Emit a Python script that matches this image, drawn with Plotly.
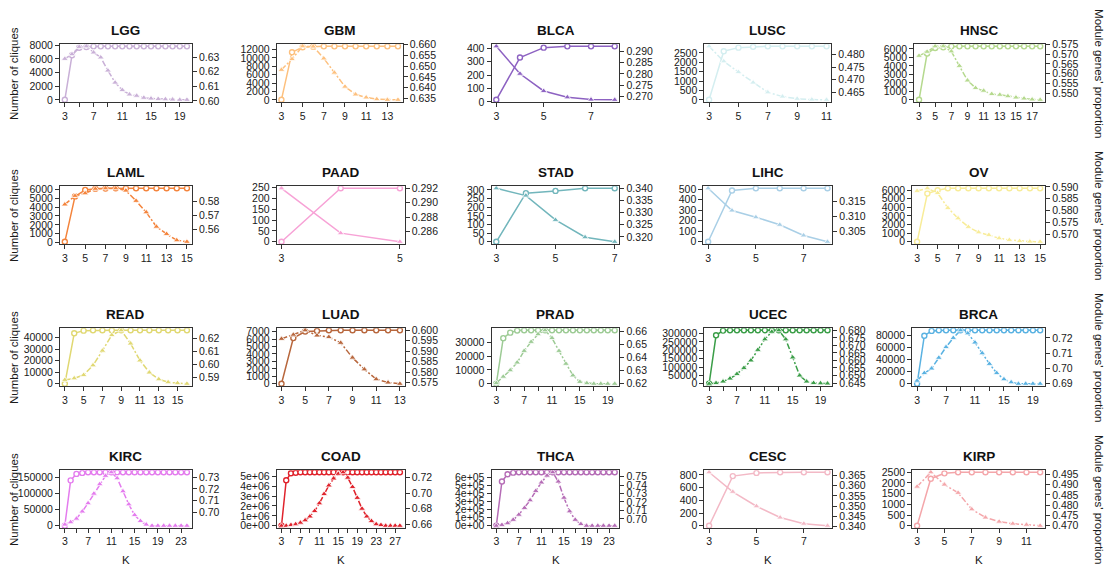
import plotly.graph_objects as go

# ---- data: number of cliques (left axis) and module genes' proportion (right axis) per K ----
LGG_k = list(range(3, 21))
LGG_cliques = [0, 6560, 7660, 7760, 7860, 7860, 7860, 7860, 7860, 7860, 7860, 7860, 7860, 7860, 7860, 7860, 7860, 7860]
LGG_prop = [0.6288, 0.6320, 0.6370, 0.6374, 0.6332, 0.6298, 0.6208, 0.6125, 0.6074, 0.6044, 0.6035, 0.6021, 0.6016, 0.6013, 0.6011, 0.6009, 0.6007, 0.6007]

GBM_k = list(range(3, 15))
GBM_cliques = [0, 11380, 12550, 12700, 12780, 12780, 12780, 12780, 12780, 12780, 12780, 12780]
GBM_prop = [0.6483, 0.6533, 0.6592, 0.6591, 0.6536, 0.6470, 0.6405, 0.6369, 0.6355, 0.6347, 0.6344, 0.6344]

BLCA_k = list(range(3, 9))
BLCA_cliques = [15, 331, 405, 415, 415, 415]
BLCA_prop = [0.2922, 0.2801, 0.2725, 0.2697, 0.2687, 0.2686]

LUSC_k = list(range(3, 12))
LUSC_cliques = [0, 2590, 2780, 2830, 2850, 2850, 2850, 2850, 2850]
LUSC_prop = [0.4833, 0.4773, 0.4730, 0.4688, 0.4649, 0.4632, 0.4623, 0.4620, 0.4619]

HNSC_k = list(range(3, 19))
HNSC_cliques = [0, 5460, 6115, 6190, 6310, 6310, 6310, 6310, 6310, 6310, 6310, 6310, 6310, 6310, 6310, 6310]
HNSC_prop = [0.5692, 0.5713, 0.5741, 0.5741, 0.5715, 0.5640, 0.5565, 0.5526, 0.5512, 0.5495, 0.5491, 0.5484, 0.5477, 0.5472, 0.5467, 0.5465]

LAML_k = list(range(3, 16))
LAML_cliques = [100, 5200, 5930, 6070, 6080, 6110, 6110, 6110, 6110, 6110, 6110, 6110, 6110]
LAML_prop = [0.5777, 0.5837, 0.5855, 0.5887, 0.5890, 0.5890, 0.5874, 0.5802, 0.5722, 0.5621, 0.5570, 0.5526, 0.5515]

PAAD_k = [3, 4, 5]
PAAD_cliques = [0, 247, 247]
PAAD_prop = [0.2920, 0.2858, 0.2846]

STAD_k = list(range(3, 8))
STAD_cliques = [0, 281, 294, 309, 309]
STAD_prop = [0.3400, 0.3370, 0.3270, 0.3199, 0.3180]

LIHC_k = list(range(3, 9))
LIHC_cliques = [0, 488, 509, 509, 509, 509]
LIHC_prop = [0.3192, 0.3119, 0.3097, 0.3072, 0.3037, 0.3016]

OV_k = list(range(3, 16))
OV_cliques = [0, 5610, 6000, 6220, 6220, 6220, 6220, 6220, 6220, 6220, 6220, 6220, 6220]
OV_prop = [0.5883, 0.5894, 0.5874, 0.5811, 0.5767, 0.5731, 0.5708, 0.5697, 0.5683, 0.5676, 0.5671, 0.5669, 0.5668]

READ_k = list(range(3, 17))
READ_cliques = [0, 43700, 46000, 46300, 46300, 46300, 46300, 46300, 46300, 46300, 46300, 46300, 46300, 46300]
READ_prop = [0.5883, 0.5895, 0.5920, 0.5995, 0.6108, 0.6228, 0.6265, 0.6163, 0.6033, 0.5940, 0.5888, 0.5865, 0.5858, 0.5853]

LUAD_k = list(range(3, 14))
LUAD_cliques = [0, 6125, 7000, 7090, 7170, 7170, 7170, 7170, 7170, 7170, 7170]
LUAD_prop = [0.5959, 0.5979, 0.6000, 0.5975, 0.5968, 0.5940, 0.5869, 0.5813, 0.5766, 0.5750, 0.5744]

PRAD_k = list(range(3, 21))
PRAD_cliques = [0, 33000, 37000, 38500, 38700, 38700, 38700, 38700, 38700, 38700, 38700, 38700, 38700, 38700, 38700, 38700, 38700, 38700]
PRAD_prop = [0.620, 0.625, 0.630, 0.636, 0.645, 0.652, 0.658, 0.661, 0.655, 0.645, 0.635, 0.626, 0.621, 0.620, 0.6195, 0.6195, 0.6195, 0.6195]

UCEC_k = list(range(3, 21))
UCEC_cliques = [0, 290000, 318000, 320000, 320000, 320000, 320000, 320000, 320000, 320000, 320000, 320000, 320000, 320000, 320000, 320000, 320000, 320000]
UCEC_prop = [0.6445, 0.6450, 0.6460, 0.6480, 0.6510, 0.6550, 0.6600, 0.6670, 0.6740, 0.6790, 0.6800, 0.6740, 0.6620, 0.6500, 0.6460, 0.6450, 0.6448, 0.6447]

BRCA_k = list(range(3, 21))
BRCA_cliques = [0, 80000, 88000, 89000, 89000, 89000, 89000, 89000, 89000, 89000, 89000, 89000, 89000, 89000, 89000, 89000, 89000, 89000]
BRCA_prop = [0.692, 0.697, 0.700, 0.707, 0.714, 0.720, 0.725, 0.723, 0.717, 0.710, 0.703, 0.697, 0.693, 0.691, 0.690, 0.690, 0.690, 0.690]

KIRC_k = list(range(3, 25))
KIRC_cliques = [0, 140000, 160000, 163000, 165000, 165000, 165000, 165000, 165000, 165000, 165000, 165000, 165000, 165000, 165000, 165000, 165000, 165000, 165000, 165000, 165000, 165000]
KIRC_prop = [0.690, 0.692, 0.695, 0.701, 0.708, 0.716, 0.724, 0.731, 0.734, 0.729, 0.718, 0.707, 0.698, 0.693, 0.690, 0.689, 0.689, 0.689, 0.689, 0.689, 0.689, 0.689]

COAD_k = list(range(3, 29))
COAD_cliques = [0, 4600000, 5300000, 5350000, 5400000, 5400000, 5400000, 5400000, 5400000, 5400000, 5400000, 5400000, 5400000, 5400000, 5400000, 5400000, 5400000, 5400000, 5400000, 5400000, 5400000, 5400000, 5400000, 5400000, 5400000, 5400000]
COAD_prop = [0.658, 0.658, 0.659, 0.660, 0.662, 0.665, 0.670, 0.677, 0.687, 0.699, 0.710, 0.719, 0.725, 0.727, 0.720, 0.708, 0.694, 0.680, 0.670, 0.664, 0.660, 0.659, 0.658, 0.658, 0.658, 0.658]

THCA_k = list(range(3, 25))
THCA_cliques = [0, 550000, 640000, 660000, 665000, 665000, 665000, 665000, 665000, 665000, 665000, 665000, 665000, 665000, 665000, 665000, 665000, 665000, 665000, 665000, 665000, 665000]
THCA_prop = [0.692, 0.693, 0.695, 0.699, 0.705, 0.713, 0.722, 0.733, 0.743, 0.751, 0.755, 0.744, 0.725, 0.709, 0.699, 0.694, 0.692, 0.692, 0.692, 0.692, 0.692, 0.692]

CESC_k = list(range(3, 9))
CESC_cliques = [0, 780, 830, 840, 840, 840]
CESC_prop = [0.3665, 0.3570, 0.3500, 0.3445, 0.3415, 0.3405]

KIRP_k = list(range(3, 13))
KIRP_cliques = [0, 2200, 2450, 2500, 2500, 2500, 2500, 2500, 2500, 2500]
KIRP_prop = [0.4890, 0.4960, 0.4900, 0.4860, 0.4780, 0.4740, 0.4720, 0.4710, 0.4705, 0.4700]

# ---- panel order, colours and tick labels ----
panel_names = ["LGG", "GBM", "BLCA", "LUSC", "HNSC",
               "LAML", "PAAD", "STAD", "LIHC", "OV",
               "READ", "LUAD", "PRAD", "UCEC", "BRCA",
               "KIRC", "COAD", "THCA", "CESC", "KIRP"]

panel_colors = ["#C9B0D7", "#FDC07E", "#8D62C2", "#D4EEF0", "#B5D98E",
                "#F4843C", "#F7A2D6", "#72B6BC", "#A9CFE6", "#F8EC98",
                "#E0D872", "#B8673D", "#9DCB95", "#3B9E48", "#5AB2E2",
                "#E47CEE", "#E0232C", "#B56CB6", "#F3B9C6", "#F4A6AA"]

left_ticks = {
    "LGG": [0, 2000, 4000, 6000, 8000],
    "GBM": [0, 2000, 4000, 6000, 8000, 10000, 12000],
    "BLCA": [0, 100, 200, 300, 400],
    "LUSC": [0, 500, 1000, 1500, 2000, 2500],
    "HNSC": [0, 1000, 2000, 3000, 4000, 5000, 6000],
    "LAML": [0, 1000, 2000, 3000, 4000, 5000, 6000],
    "PAAD": [0, 50, 100, 150, 200, 250],
    "STAD": [0, 50, 100, 150, 200, 250, 300],
    "LIHC": [0, 100, 200, 300, 400, 500],
    "OV": [0, 1000, 2000, 3000, 4000, 5000, 6000],
    "READ": [0, 10000, 20000, 30000, 40000],
    "LUAD": [0, 1000, 2000, 3000, 4000, 5000, 6000, 7000],
    "PRAD": [0, 10000, 20000, 30000],
    "UCEC": [0, 50000, 100000, 150000, 200000, 250000, 300000],
    "BRCA": [0, 20000, 40000, 60000, 80000],
    "KIRC": [0, 50000, 100000, 150000],
    "COAD": [0, 1e6, 2e6, 3e6, 4e6, 5e6],
    "THCA": [0, 1e5, 2e5, 3e5, 4e5, 5e5, 6e5, 7e5],
    "CESC": [0, 200, 400, 600, 800],
    "KIRP": [0, 500, 1000, 1500, 2000, 2500],
}
sci_labels = {
    "COAD": ["0e+00", "1e+06", "2e+06", "3e+06", "4e+06", "5e+06"],
    "THCA": ["0e+00", "1e+05", "2e+05", "3e+05", "4e+05", "5e+05", "6e+05", "7e+05"],
}
right_ticks = {
    "LGG": [0.60, 0.61, 0.62, 0.63],
    "GBM": [0.635, 0.640, 0.645, 0.650, 0.655, 0.660],
    "BLCA": [0.270, 0.275, 0.280, 0.285, 0.290],
    "LUSC": [0.465, 0.470, 0.475, 0.480],
    "HNSC": [0.550, 0.555, 0.560, 0.565, 0.570, 0.575],
    "LAML": [0.56, 0.57, 0.58],
    "PAAD": [0.286, 0.288, 0.290, 0.292],
    "STAD": [0.320, 0.325, 0.330, 0.335, 0.340],
    "LIHC": [0.305, 0.310, 0.315],
    "OV": [0.570, 0.575, 0.580, 0.585, 0.590],
    "READ": [0.59, 0.60, 0.61, 0.62],
    "LUAD": [0.575, 0.580, 0.585, 0.590, 0.595, 0.600],
    "PRAD": [0.62, 0.63, 0.64, 0.65, 0.66],
    "UCEC": [0.645, 0.650, 0.655, 0.660, 0.665, 0.670, 0.675, 0.680],
    "BRCA": [0.69, 0.70, 0.71, 0.72],
    "KIRC": [0.70, 0.71, 0.72, 0.73],
    "COAD": [0.66, 0.68, 0.70, 0.72],
    "THCA": [0.70, 0.71, 0.72, 0.73, 0.74, 0.75],
    "CESC": [0.340, 0.345, 0.350, 0.355, 0.360, 0.365],
    "KIRP": [0.470, 0.475, 0.480, 0.485, 0.490, 0.495],
}
# every second K gets a tick; labels shown on these K values
x_label_vals = {
    "LGG": [3, 7, 11, 15, 19], "GBM": [3, 5, 7, 9, 11, 13], "BLCA": [3, 5, 7],
    "LUSC": [3, 5, 7, 9, 11], "HNSC": [3, 5, 7, 9, 11, 13, 15, 17],
    "LAML": [3, 5, 7, 9, 11, 13, 15], "PAAD": [3, 5], "STAD": [3, 5, 7],
    "LIHC": [3, 5, 7], "OV": [3, 5, 7, 9, 11, 13, 15],
    "READ": [3, 5, 7, 9, 11, 13, 15], "LUAD": [3, 5, 7, 9, 11, 13],
    "PRAD": [3, 7, 11, 15, 19], "UCEC": [3, 7, 11, 15, 19], "BRCA": [3, 7, 11, 15, 19],
    "KIRC": [3, 7, 11, 15, 19, 23], "COAD": [3, 7, 11, 15, 19, 23, 27],
    "THCA": [3, 7, 11, 15, 19, 23], "CESC": [3, 5, 7], "KIRP": [3, 5, 7, 9, 11],
}

data_k = {n: globals()[n + "_k"] for n in panel_names}
data_c = {n: globals()[n + "_cliques"] for n in panel_names}
data_p = {n: globals()[n + "_prop"] for n in panel_names}

# ---- page geometry (pixels) ----
W, H = 1112, 576
col_boxes = [
    [(60, 192), (277, 403), (492, 620), (705, 832), (915, 1046)],
    [(60, 192), (277, 405), (492, 620), (704, 833), (913, 1046)],
    [(60, 192), (277, 405), (492, 620), (705, 833), (913, 1046)],
    [(60, 192), (277, 405), (492, 620), (705, 833), (913, 1046)],
]
row_boxes = [(39, 98), (184, 243), (329, 388), (474, 533)]

FONT = "Liberation Sans, Arial, sans-serif"
TXT = "#1a1a1a"
TICKFONT = dict(family=FONT, size=10.5, color=TXT)


def padded(lo, hi, frac=0.04):
    d = (hi - lo) * frac
    return [lo - d, hi + d]


fig = go.Figure()
layout = {}
annotations = []

for i, name in enumerate(panel_names):
    r, c = divmod(i, 5)
    x0, x1 = col_boxes[r][c]
    y0, y1 = row_boxes[r]
    xd = [x0 / W, x1 / W]
    yd = [1 - y1 / H, 1 - y0 / H]
    col = panel_colors[i]
    k = data_k[name]
    cl = data_c[name]
    pr = data_p[name]

    xid = 2 * i + 1
    yl_id = 2 * i + 1
    yr_id = 2 * i + 2
    xname = "xaxis" if xid == 1 else f"xaxis{xid}"
    xref = "x" if xid == 1 else f"x{xid}"
    ylname = "yaxis" if yl_id == 1 else f"yaxis{yl_id}"
    ylref = "y" if yl_id == 1 else f"y{yl_id}"
    yrname = f"yaxis{yr_id}"
    yrref = f"y{yr_id}"

    dense = len(k) > 8
    tri_dash = "6px,2px,2px,2px" if dense else "solid"

    # number of cliques (open circles, left axis)
    fig.add_trace(go.Scatter(x=k, y=cl, xaxis=xref, yaxis=ylref, mode="lines",
                             line=dict(color=col, width=1.5), hoverinfo="skip", showlegend=False))
    # module genes' proportion (triangles, right axis)
    fig.add_trace(go.Scatter(x=k, y=pr, xaxis=xref, yaxis=yrref, mode="lines",
                             line=dict(color=col, width=1.5, dash=tri_dash), hoverinfo="skip",
                             showlegend=False))
    fig.add_trace(go.Scatter(x=k, y=cl, xaxis=xref, yaxis=ylref, mode="markers",
                             marker=dict(symbol="circle", size=5, color="white",
                                         line=dict(color=col, width=1.4)),
                             showlegend=False))
    fig.add_trace(go.Scatter(x=k, y=pr, xaxis=xref, yaxis=yrref, mode="markers",
                             marker=dict(symbol="triangle-up", size=6, color=col,
                                         line=dict(color="white", width=0.8)),
                             showlegend=False))

    xticks = list(range(3, max(k) + 1, 2))
    shown = set(x_label_vals[name])
    xtext = [str(v) if v in shown else "" for v in xticks]

    axis_common = dict(showgrid=False, zeroline=False, showline=True, linecolor="#333333",
                       linewidth=1, ticks="outside", ticklen=4, tickwidth=1,
                       tickcolor="#333333", tickfont=TICKFONT)

    layout[xname] = dict(domain=xd, anchor=ylref, range=padded(min(k), max(k)),
                         tickmode="array", tickvals=xticks, ticktext=xtext,
                         mirror=True, **axis_common)

    lt = left_ticks[name]
    lkw = dict(tickmode="array", tickvals=lt)
    if name in sci_labels:
        lkw["ticktext"] = sci_labels[name]
    else:
        lkw["ticktext"] = [str(int(v)) for v in lt]
    layout[ylname] = dict(domain=yd, anchor=xref, range=padded(min(cl), max(cl)),
                          side="left", **lkw, **axis_common)

    rt = right_ticks[name]
    dec = max(len(f"{v:g}".split(".")[-1]) for v in rt)
    layout[yrname] = dict(domain=yd, anchor=xref, overlaying=ylref, side="right",
                          range=padded(min(pr), max(pr)), tickmode="array", tickvals=rt,
                          ticktext=[f"{v:.{dec}f}" for v in rt], **axis_common)

    annotations.append(dict(text=f"<b>{name}</b>", x=(x0 + x1) / 2 / W, y=1 - (y0 - 14) / H,
                            xref="paper", yref="paper", showarrow=False,
                            font=dict(family=FONT, size=13.5, color="#111111"),
                            xanchor="center", yanchor="middle"))

    if c == 0:
        annotations.append(dict(text="Number of cliques", x=14 / W, y=1 - (y0 + y1) / 2 / H,
                                xref="paper", yref="paper", showarrow=False, textangle=-90,
                                font=dict(family=FONT, size=11.5, color=TXT),
                                xanchor="center", yanchor="middle"))
    if c == 4:
        annotations.append(dict(text="Module genes' proportion", x=1100 / W,
                                y=1 - (y0 + y1) / 2 / H, xref="paper", yref="paper",
                                showarrow=False, textangle=90,
                                font=dict(family=FONT, size=11.5, color=TXT),
                                xanchor="center", yanchor="middle"))
    if r == 3:
        annotations.append(dict(text="K", x=(x0 + x1) / 2 / W, y=1 - 566 / H,
                                xref="paper", yref="paper", showarrow=False,
                                font=dict(family=FONT, size=11.5, color=TXT),
                                xanchor="center", yanchor="middle"))

fig.update_layout(**layout)
fig.update_layout(width=W, height=H, margin=dict(l=0, r=0, t=0, b=0),
                  paper_bgcolor="white", plot_bgcolor="white",
                  showlegend=False, annotations=annotations,
                  font=dict(family=FONT, color=TXT))

fig.write_html("out.html")
